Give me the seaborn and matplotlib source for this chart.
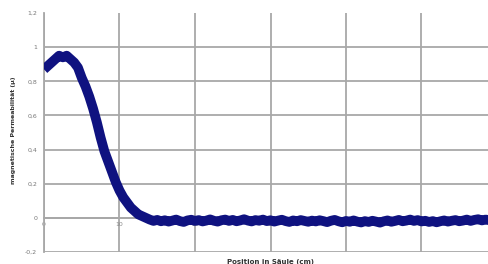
import numpy as np
import pandas as pd
import matplotlib
matplotlib.use("Agg")
import matplotlib.pyplot as plt
import seaborn as sns

# Werte (Schritt 0,5 cm)
abfall = [0.87, 0.89, 0.91, 0.93, 0.95, 0.94, 0.95, 0.93, 0.91, 0.88,
          0.82, 0.77, 0.71, 0.64, 0.56, 0.47, 0.39, 0.33, 0.27, 0.21,
          0.16, 0.12, 0.09, 0.06, 0.04, 0.02, 0.01, 0.00]
plateau = [-0.010, -0.018, -0.012, -0.020, -0.014, -0.022, -0.016, -0.010, -0.019, -0.024,
           -0.015, -0.011, -0.018, -0.013, -0.021, -0.016, -0.009, -0.017, -0.022, -0.014,
           -0.010, -0.018, -0.012, -0.020, -0.015, -0.008, -0.016, -0.021, -0.013, -0.017,
           -0.010, -0.019, -0.014, -0.022, -0.016, -0.011, -0.019, -0.024, -0.015, -0.020,
           -0.013, -0.018, -0.023, -0.016, -0.021, -0.014, -0.019, -0.025, -0.017, -0.012,
           -0.020, -0.026, -0.018, -0.023, -0.015, -0.022, -0.027, -0.019, -0.024, -0.017,
           -0.022, -0.028, -0.020, -0.015, -0.023, -0.018, -0.012, -0.020, -0.016, -0.010,
           -0.018, -0.013, -0.021, -0.017, -0.024, -0.019, -0.026, -0.020, -0.015, -0.022,
           -0.017, -0.013, -0.020, -0.016, -0.010, -0.018, -0.012, -0.008, -0.015, -0.010,
           -0.014, -0.009, -0.013]
werte = abfall + plateau
position = np.arange(0, 60.5, 0.5)

y_ticks = [-0.2, 0, 0.2, 0.4, 0.6, 0.8, 1.0, 1.2]
y_labels = ["-0,2", "0", "0,2", "0,4", "0,6", "0,8", "1", "1,2"]
x_ticks = [0, 10, 20, 30, 40, 50]
x_labels = ["0", "10", "20", "30", "40", "50"]

df = pd.DataFrame({"pos": position, "mu": werte})

sns.set_style("white")
plt.rcParams['font.family'] = ['DejaVu Sans']

fig = plt.figure(figsize=(4.89, 2.64), dpi=100)
# Achse rechts angeschnitten wie im Original
ax = fig.add_axes([44 / 489, 12 / 264, 453 / 489, 239 / 264])
ax.set_axisbelow(True)

sns.lineplot(data=df, x="pos", y="mu", ax=ax, color="#0f1280", lw=7,
             solid_capstyle="butt", zorder=3)

ax.set_xlim(0, 60)
ax.set_ylim(-0.2, 1.2)
ax.set_yticks(y_ticks)
ax.set_yticklabels(y_labels)
ax.set_xticks(x_ticks)
ax.set_xticklabels(x_labels)
# Gitterlinie bei 60 ohne Beschriftung
ax.axvline(60, color="#a8a8a8", lw=1.3, zorder=0.5)

ax.grid(True, color="#a8a8a8", lw=1.3)
ax.get_ygridlines()[-1].set_visible(False)

for s in ["top", "right"]:
    ax.spines[s].set_visible(False)
ax.spines["left"].set_color("#a8a8a8")
ax.spines["left"].set_linewidth(1.3)
ax.spines["bottom"].set_position(("data", 0))
ax.spines["bottom"].set_color("#a8a8a8")
ax.spines["bottom"].set_linewidth(1.3)

ax.tick_params(axis="y", length=3, color="#a8a8a8", labelsize=4.5,
               labelcolor="#777777", pad=2)
ax.tick_params(axis="x", length=0, labelsize=4.5, labelcolor="#888888", pad=3)

ax.set_xlabel("")
ax.set_ylabel("")
fig.text(271 / 489, 2 / 264, "Position in Säule (cm)", ha="center", va="center",
         fontsize=5, color="#333333", fontweight="bold")
fig.text(14 / 489, 1 - 130 / 264, "magnetische Permeabilität (µ)", ha="center",
         va="center", rotation=90, fontsize=4.5, color="#333333", fontweight="bold")

fig.savefig("out.png", dpi=100)
